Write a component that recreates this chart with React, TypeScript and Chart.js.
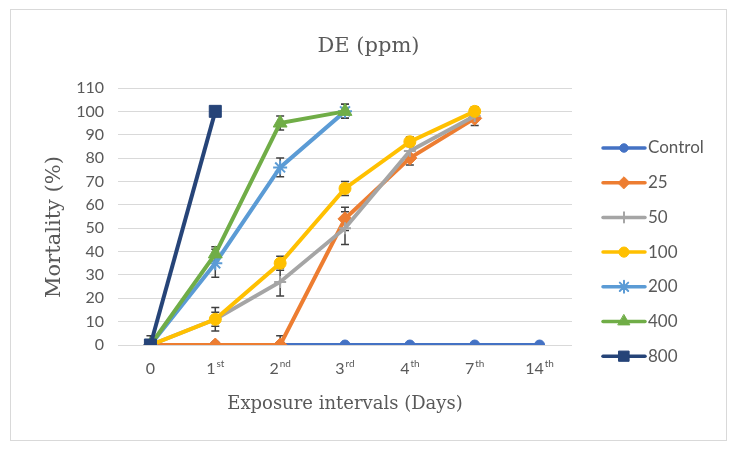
import React, { useEffect, useRef } from 'react';
import { Chart, registerables } from 'chart.js';
import { drawPoint } from 'chart.js/helpers';

Chart.register(...registerables);

// ---- data ----
const categories = ['0', '1st', '2nd', '3rd', '4th', '7th', '14th'];
const seriesNames = ['Control', '25', '50', '100', '200', '400', '800'];

const control = [0, 0, 0, 0, 0, 0, 0];
const ppm25 = [0, 0, 0, 54, 80, 97, null];
const ppm50 = [0, 11, 27, 50, 83, 98, null];
const ppm100 = [0, 11, 35, 67, 87, 100, null];
const ppm200 = [0, 35, 76, 100, null, null, null];
const ppm400 = [0, 39, 95, 100, null, null, null];
const ppm800 = [0, 100, null, null, null, null, null];

const errControl = [0, 0, 0, 0, 0, 0, 0];
const err25 = [0, 0, 4, 5, 3, 3, 0];
const err50 = [0, 5, 6, 7, 3, 2, 0];
const err100 = [0, 3, 3, 3, 2, 2, 0];
const err200 = [4, 6, 4, 3, 0, 0, 0];
const err400 = [0, 3, 3, 3, 0, 0, 0];
const err800 = [0, 0, 0, 0, 0, 0, 0];

const yMin = 0;
const yMax = 110;
const yStep = 10;

const chartTitle = 'DE (ppm)';
const yTitle = 'Mortality (%)';
const xTitle = 'Exposure intervals (Days)';

// ---- styles ----
const seriesValues = [control, ppm25, ppm50, ppm100, ppm200, ppm400, ppm800];
const seriesErrors = [errControl, err25, err50, err100, err200, err400, err800];
const colors = ['#4472C4', '#ED7D31', '#A5A5A5', '#FFC000', '#5B9BD5', '#70AD47', '#264478'];
const pointStyles = ['circle', 'rectRot', 'cross', 'circle', 'star', 'triangle', 'rect'];
const pointRadii = [5, 7, 6, 6, 7, 8, 8.5];
const pointBorders = [1, 1, 2, 1, 2, 1, 1];

const TEXT = '#595959';
const TICK_FONT = 'Lato, "Liberation Sans", sans-serif';
const SERIF = '"DejaVu Serif", "Liberation Serif", serif';

const errorBarPlugin = {
  id: 'errorBars',
  beforeDatasetsDraw(chart: any) {
    const ctx = chart.ctx;
    const ys = chart.scales.y;
    const a = chart.chartArea;
    ctx.save();
    ctx.beginPath();
    ctx.rect(a.left, a.top - 10, a.right - a.left, a.bottom - a.top + 10);
    ctx.clip();
    ctx.strokeStyle = '#404040';
    ctx.lineWidth = 1.5;
    chart.data.datasets.forEach((ds: any, i: number) => {
      const meta = chart.getDatasetMeta(i);
      const errs = seriesErrors[i];
      ds.data.forEach((v: any, j: number) => {
        const e = errs[j];
        if (v == null || !e) return;
        const x = meta.data[j].x;
        const yt = ys.getPixelForValue(v + e);
        const yb = Math.min(ys.getPixelForValue(v - e), a.bottom);
        ctx.beginPath();
        ctx.moveTo(x, yt);
        ctx.lineTo(x, yb);
        ctx.moveTo(x - 4, yt);
        ctx.lineTo(x + 4, yt);
        if (v - e >= yMin) {
          ctx.moveTo(x - 4, yb);
          ctx.lineTo(x + 4, yb);
        }
        ctx.stroke();
      });
    });
    ctx.restore();
  },
};

const textPlugin = {
  id: 'texts',
  afterDraw(chart: any) {
    const ctx = chart.ctx;
    const xs = chart.scales.x;
    const a = chart.chartArea;
    ctx.save();
    ctx.fillStyle = TEXT;

    // chart title
    ctx.font = `21px ${SERIF}`;
    ctx.textAlign = 'center';
    ctx.textBaseline = 'middle';
    ctx.fillText(chartTitle, chart.width / 2, 37);

    // y axis title
    ctx.save();
    ctx.translate(44, chart.height / 2 + 2);
    ctx.rotate(-Math.PI / 2);
    ctx.font = `21px ${SERIF}`;
    ctx.fillText(yTitle, 0, 0);
    ctx.restore();

    // x tick labels with superscripts
    const y = a.bottom + 24;
    ctx.textBaseline = 'middle';
    ctx.textAlign = 'left';
    categories.forEach((lab, i) => {
      const m = /^(\d+)(.*)$/.exec(lab);
      const main = m ? m[1] : lab;
      const sup = m ? m[2] : '';
      const x = xs.getPixelForValue(i);
      ctx.font = `16px ${TICK_FONT}`;
      const wm = ctx.measureText(main).width;
      ctx.font = `10px ${TICK_FONT}`;
      const wsup = sup ? ctx.measureText(sup).width + 1 : 0;
      const x0 = x - (wm + wsup) / 2;
      ctx.font = `16px ${TICK_FONT}`;
      ctx.fillText(main, x0, y);
      if (sup) {
        ctx.font = `10px ${TICK_FONT}`;
        ctx.fillText(sup, x0 + wm + 1, y - 5);
      }
    });
    ctx.restore();
  },
};

const legendPlugin = {
  id: 'customLegend',
  afterDraw(chart: any) {
    const ctx = chart.ctx;
    const a = chart.chartArea;
    const x1 = a.right + 31;
    const x2 = a.right + 73;
    const y0 = a.top + 60;
    const gap = 34.7;
    ctx.save();
    chart.data.datasets.forEach((ds: any, i: number) => {
      const y = y0 + i * gap;
      ctx.strokeStyle = colors[i];
      ctx.lineWidth = 3.5;
      ctx.lineCap = 'round';
      ctx.beginPath();
      ctx.moveTo(x1, y);
      ctx.lineTo(x2, y);
      ctx.stroke();
      ctx.fillStyle = colors[i];
      ctx.strokeStyle = colors[i];
      ctx.lineWidth = pointBorders[i];
      drawPoint(ctx, { pointStyle: pointStyles[i], radius: pointRadii[i] * 0.85, rotation: 0, borderWidth: pointBorders[i] } as any, (x1 + x2) / 2, y);
      ctx.fillStyle = TEXT;
      ctx.font = `17px ${TICK_FONT}`;
      ctx.textBaseline = 'middle';
      ctx.textAlign = 'left';
      ctx.fillText(ds.label, x2 + 3, y);
    });
    ctx.restore();
  },
};

export default function App() {
  const ref = useRef<HTMLCanvasElement | null>(null);

  useEffect(() => {
    if (!ref.current) return;
    const datasets = seriesNames.map((name, i) => ({
      label: name,
      data: seriesValues[i],
      borderColor: colors[i],
      backgroundColor: colors[i],
      borderWidth: 4,
      pointStyle: pointStyles[i] as any,
      pointRadius: pointRadii[i],
      pointBorderWidth: pointBorders[i],
      pointBackgroundColor: colors[i],
      pointBorderColor: colors[i],
      tension: 0,
      order: seriesNames.length - 1 - i,
      spanGaps: false,
    }));

    const chart = new Chart(ref.current, {
      type: 'line',
      data: { labels: categories, datasets },
      plugins: [errorBarPlugin, textPlugin, legendPlugin],
      options: {
        animation: false,
        responsive: false,
        devicePixelRatio: 1,
        events: [],
        layout: { padding: { left: 0, right: 154, top: 78, bottom: 0 } },
        plugins: {
          legend: { display: false },
          tooltip: { enabled: false },
          title: { display: false },
        },
        scales: {
          x: {
            type: 'category',
            offset: true,
            grid: { display: false, drawTicks: false },
            border: { display: false },
            ticks: { display: false },
            title: {
              display: true,
              text: xTitle,
              color: TEXT,
              font: { family: SERIF, size: 18, weight: 'normal' },
              padding: { top: 0, bottom: 25 },
            },
            afterFit: (s: any) => {
              s.height = 95;
            },
          },
          y: {
            min: yMin,
            max: yMax,
            grid: { color: '#d9d9d9', lineWidth: 1, drawTicks: false },
            border: { display: false },
            ticks: {
              stepSize: yStep,
              autoSkip: false,
              padding: 14,
              color: TEXT,
              font: { family: TICK_FONT, size: 16 },
            },
            title: { display: false },
            afterFit: (s: any) => {
              s.width = 107;
            },
          },
        },
      },
    });
    return () => chart.destroy();
  }, []);

  return (
    <div style={{ position: 'absolute', left: 0, top: 0, width: 736, height: 454, background: '#fff' }}>
      <div
        style={{
          position: 'absolute',
          left: 10,
          top: 9,
          width: 717,
          height: 432,
          boxSizing: 'border-box',
          border: '1px solid #d9d9d9',
        }}
      />
      <canvas
        ref={ref}
        width={715}
        height={430}
        style={{ position: 'absolute', left: 11, top: 10, width: 715, height: 430 }}
      />
    </div>
  );
}
